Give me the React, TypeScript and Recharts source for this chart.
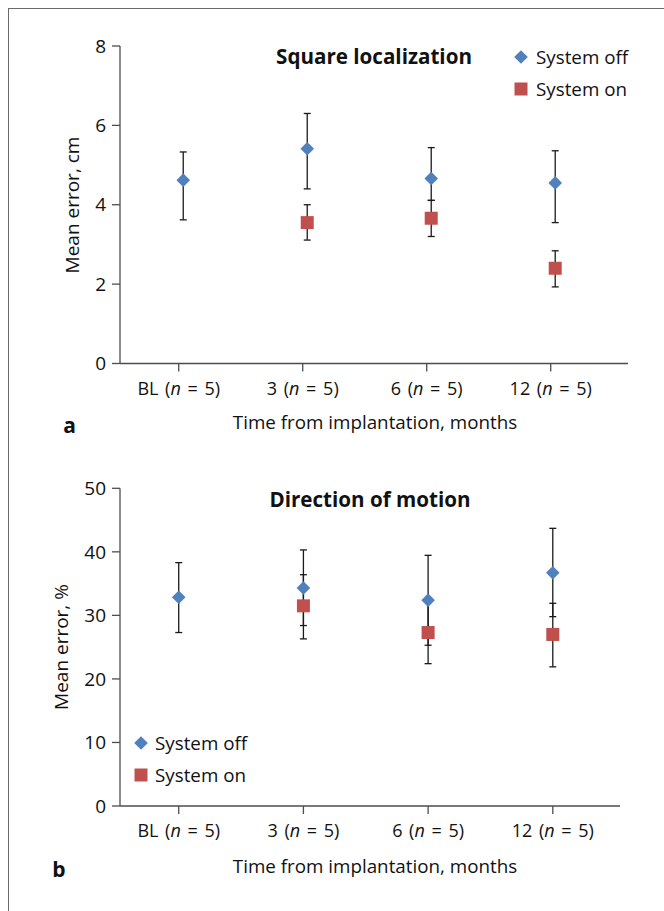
import React from 'react';
import { ScatterChart, Scatter, XAxis, YAxis, ErrorBar, Legend } from 'recharts';

// ---------- data ----------
const categories = ['BL', '3', '6', '12'];
const sampleSizes = [5, 5, 5, 5];

const squareOffMean = [4.62, 5.41, 4.66, 4.55];
const squareOffHigh = [5.33, 6.3, 5.44, 5.36];
const squareOffLow = [3.62, 4.4, 4.11, 3.55];
const squareOnMean = [null, 3.55, 3.66, 2.4];
const squareOnHigh = [null, 4.0, 4.11, 2.84];
const squareOnLow = [null, 3.11, 3.2, 1.93];

const motionOffMean = [32.85, 34.3, 32.4, 36.7];
const motionOffHigh = [38.3, 40.3, 39.45, 43.7];
const motionOffLow = [27.3, 28.4, 25.3, 29.8];
const motionOnMean = [null, 31.5, 27.3, 27.0];
const motionOnHigh = [null, 36.4, 32.2, 31.9];
const motionOnLow = [null, 26.3, 22.4, 21.9];

const squareTicks = [0, 2, 4, 6, 8];
const motionTicks = [0, 10, 20, 30, 40, 50];
const categoryTicks = [0, 1, 2, 3];

const seriesNames = ['System off', 'System on'];

// ---------- styles ----------
const FONT = '"Open Sans", "Noto Sans", sans-serif';
const BLUE = '#4F81BD';
const RED = '#C0504D';
const AXIS = '#4d4d4d';
const ERR = '#1a1a1a';

type Pt = { x: number; y: number; err: [number, number] };

function build(mean: (number | null)[], high: (number | null)[], low: (number | null)[]): Pt[] {
  const out: Pt[] = [];
  mean.forEach((m, i) => {
    if (m === null) return;
    const h = high[i] as number;
    const l = low[i] as number;
    out.push({ x: i, y: m, err: [m - l, h - m] });
  });
  return out;
}

const DiamondShape = (props: any) => {
  const { cx, cy } = props;
  const r = 6.8;
  return (
    <polygon
      points={`${cx},${cy - r} ${cx + r},${cy} ${cx},${cy + r} ${cx - r},${cy}`}
      fill={BLUE}
    />
  );
};

const SquareShape = (props: any) => {
  const { cx, cy } = props;
  const s = 13;
  return <rect x={cx - s / 2} y={cy - s / 2} width={s} height={s} fill={RED} />;
};

const makeXTick = (shift: number) => (props: any) => {
  const { x, y, payload } = props;
  const i = payload.value as number;
  const tx = x + shift;
  return (
    <g>
      <line x1={tx} x2={tx} y1={y} y2={y + 8} stroke={AXIS} strokeWidth={1.3} />
      <text
        x={tx}
        y={y + 24}
        textAnchor="middle"
        dominantBaseline="central"
        fontFamily={FONT}
        fontSize={18}
        fill="#111"
        style={{ wordSpacing: '2px' }}
      >
        {categories[i]} (<tspan fontStyle="italic">n</tspan> = {sampleSizes[i]})
      </text>
    </g>
  );
};

const LegendIcon = ({ kind }: { kind: number }) => (
  <svg width={18} height={18} style={{ display: 'block' }}>
    {kind === 0 ? (
      <polygon points="9,2.2 15.8,9 9,15.8 2.2,9" fill={BLUE} />
    ) : (
      <rect x={2.5} y={2.5} width={13} height={13} fill={RED} />
    )}
  </svg>
);

const makeLegend = (gap: number) => (props: any) => {
  const payload = props.payload || [];
  return (
    <div style={{ fontFamily: FONT, fontSize: 18.8, color: '#111' }}>
      {payload.map((entry: any, idx: number) => (
        <div key={idx} style={{ display: 'flex', alignItems: 'center', height: 32 }}>
          <LegendIcon kind={seriesNames.indexOf(entry.value)} />
          <span style={{ marginLeft: gap, whiteSpace: 'nowrap' }}>{entry.value}</span>
        </div>
      ))}
    </div>
  );
};

const abs = (extra: React.CSSProperties): React.CSSProperties => ({
  position: 'absolute',
  fontFamily: FONT,
  color: '#111',
  whiteSpace: 'nowrap',
  lineHeight: 1,
  ...extra,
});

type PanelProps = {
  top: number;
  height: number;
  marginTop: number;
  marginBottom: number;
  marginRight: number;
  xDomain: [number, number];
  tickShift: number;
  yDomain: [number, number];
  yTicks: number[];
  off: Pt[];
  on: Pt[];
  legendPos: { left: number; top: number };
  legendGap: number;
};

const Panel = (p: PanelProps) => (
  <div style={{ position: 'absolute', left: 0, top: p.top, width: 664, height: p.height }}>
    <ScatterChart
      width={664}
      height={p.height}
      margin={{ top: p.marginTop, right: p.marginRight, bottom: p.marginBottom, left: 60 }}
    >
      <XAxis
        type="number"
        dataKey="x"
        domain={p.xDomain}
        ticks={categoryTicks}
        interval={0}
        allowDataOverflow
        height={40}
        tickSize={0}
        tickMargin={0}
        tickLine={false}
        axisLine={{ stroke: AXIS, strokeWidth: 1.3 }}
        tick={makeXTick(p.tickShift)}
      />
      <YAxis
        type="number"
        dataKey="y"
        domain={p.yDomain}
        ticks={p.yTicks}
        interval={0}
        allowDataOverflow
        width={60}
        tickSize={8}
        tickMargin={6}
        axisLine={{ stroke: AXIS, strokeWidth: 1.3 }}
        tickLine={{ stroke: AXIS, strokeWidth: 1.3 }}
        tick={{ fill: '#111', fontSize: 19, fontFamily: FONT }}
      />
      <Legend
        layout="vertical"
        align="center"
        verticalAlign="middle"
        content={makeLegend(p.legendGap)}
        wrapperStyle={{ left: p.legendPos.left, top: p.legendPos.top, width: 'auto', height: 'auto' }}
      />
      <Scatter name={seriesNames[0]} data={p.off} fill={BLUE} shape={DiamondShape} isAnimationActive={false} legendType="diamond">
        <ErrorBar dataKey="err" direction="y" width={3.5} stroke={ERR} strokeWidth={1.3} isAnimationActive={false} />
      </Scatter>
      <Scatter name={seriesNames[1]} data={p.on} fill={RED} shape={SquareShape} isAnimationActive={false} legendType="square">
        <ErrorBar dataKey="err" direction="y" width={3.5} stroke={ERR} strokeWidth={1.3} isAnimationActive={false} />
      </Scatter>
    </ScatterChart>
  </div>
);

export default function App() {
  return (
    <div style={{ position: 'absolute', left: 0, top: 0, width: 664, height: 911, background: '#fff', overflow: 'hidden' }}>
      {/* frame */}
      <div style={{ position: 'absolute', left: 8, top: 8, width: 700, height: 960, borderLeft: '1.5px solid #6b6b6b', borderTop: '1.5px solid #6b6b6b' }} />

      <Panel
        top={0}
        height={450}
        marginTop={46}
        marginBottom={46.5}
        marginRight={36}
        xDomain={[-0.51, 3.587]}
        tickShift={-4.5}
        yDomain={[0, 8]}
        yTicks={squareTicks}
        off={build(squareOffMean, squareOffHigh, squareOffLow)}
        on={build(squareOnMean, squareOnHigh, squareOnLow)}
        legendPos={{ left: 512, top: 41 }}
        legendGap={6}
      />
      <Panel
        top={460}
        height={451}
        marginTop={28.3}
        marginBottom={65}
        marginRight={44}
        xDomain={[-0.471, 3.539]}
        tickShift={0}
        yDomain={[0, 50]}
        yTicks={motionTicks}
        off={build(motionOffMean, motionOffHigh, motionOffLow)}
        on={build(motionOnMean, motionOnHigh, motionOnLow)}
        legendPos={{ left: 132, top: 266.7 }}
        legendGap={5}
      />

      {/* panel a texts */}
      <div style={abs({ left: 374, top: 56, transform: 'translate(-50%,-50%)', fontSize: 20.6, fontWeight: 700 })}>Square localization</div>
      <div style={abs({ left: 72, top: 204.7, transform: 'translate(-50%,-50%) rotate(-90deg)', fontSize: 19 })}>Mean error, cm</div>
      <div style={abs({ left: 375, top: 422, transform: 'translate(-50%,-50%)', fontSize: 18.8 })}>Time from implantation, months</div>
      <div style={abs({ left: 69.5, top: 425, transform: 'translate(-50%,-50%)', fontSize: 21, fontWeight: 700 })}>a</div>

      {/* panel b texts */}
      <div style={abs({ left: 370, top: 498.5, transform: 'translate(-50%,-50%)', fontSize: 20.6, fontWeight: 700 })}>Direction of motion</div>
      <div style={abs({ left: 61, top: 647, transform: 'translate(-50%,-50%) rotate(-90deg)', fontSize: 19 })}>Mean error, %</div>
      <div style={abs({ left: 375, top: 866, transform: 'translate(-50%,-50%)', fontSize: 18.8 })}>Time from implantation, months</div>
      <div style={abs({ left: 59, top: 869, transform: 'translate(-50%,-50%)', fontSize: 21, fontWeight: 700 })}>b</div>
    </div>
  );
}
